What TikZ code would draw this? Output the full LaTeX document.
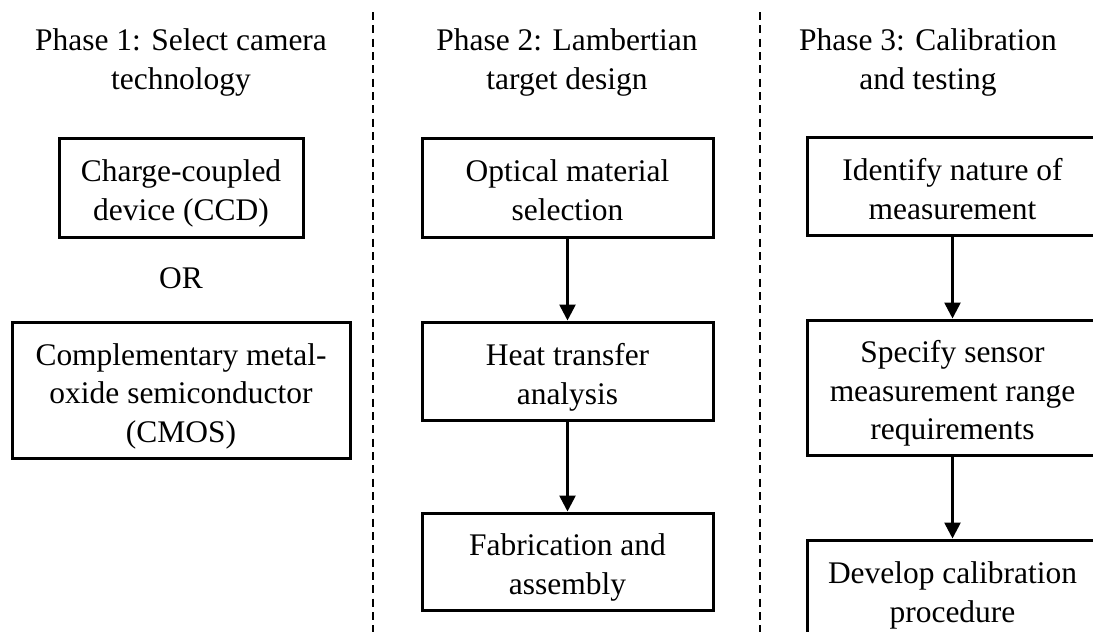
\documentclass[tikz,border=0pt]{standalone}
\usepackage{fontspec}
\setmainfont{Liberation Serif}
\usetikzlibrary{arrows.meta}

\tikzset{every picture/.style={line width=0.75pt}}
\tikzset{
  onerow/.style={align=center, inner sep=0pt, text height=26.6pt, text depth=6pt},
  tworows/.style={onerow, text height=55.5pt},
  threerows/.style={onerow, text height=84.4pt},
  stagebox/.style={draw, line width=2.25pt, tworows,
    minimum width=218.25pt, minimum height=74.25pt},
  flowarrow/.style={line width=2pt, -{Triangle[width=12pt,length=12pt]}},
  divider/.style={line width=2pt, dash pattern=on 6pt off 4pt}
}

\begin{document}
\begin{tikzpicture}[x=0.75pt,y=0.75pt,yscale=-1,xscale=1,
  font=\fontsize{23.6}{28.9}\selectfont]
%set diagram at 1093 x 632
\clip (0,0) rectangle (1093,632);

%Straight Lines (dividers)
\coordinate (divAtop) at (373,12);
\coordinate (divAbot) at (373,632);
\coordinate (divBtop) at (760,12);
\coordinate (divBbot) at (760,632);
\draw [divider] (divAtop) -- (divAbot);
\draw [divider] (divBtop) -- (divBbot);

% Text Node
\draw (181,56) node [tworows] (titleA) {Phase 1: Select camera\\technology};
% Text Node
\draw (567,56) node [tworows] (titleB) {Phase 2: Lambertian\\target design};
% Text Node
\draw (928,56) node [tworows] (titleC) {Phase 3: Calibration\\and testing};

%Shape: Rectangle
\draw (181,187.5) node [stagebox, minimum width=183pt] (ccd) {Charge-coupled\\device (CCD)};
% Text Node
\draw (181,275) node [onerow] (orword) {OR};
%Shape: Rectangle
\draw (181,390) node [stagebox, threerows, minimum width=253.5pt, minimum height=102pt] (cmos)
  {Complementary metal-\\oxide semiconductor\\(CMOS)};

%Shape: Rectangle
\draw (567.5,187.5) node [stagebox] (optical) {Optical material\\selection};
%Shape: Rectangle
\draw (567.5,371) node [stagebox, minimum height=73.5pt] (heat) {Heat transfer\\analysis};
%Shape: Rectangle
\draw (567.5,561.5) node [stagebox, minimum height=72.75pt] (fab) {Fabrication and\\assembly};

%Shape: Rectangle
\draw (952.5,186) node [stagebox, minimum height=73.5pt] (identify) {Identify nature of\\measurement};
%Shape: Rectangle
\draw (952.5,387.5) node [stagebox, threerows, minimum height=101.25pt] (specify)
  {Specify sensor\\measurement range\\requirements};
%Shape: Rectangle
\draw (952.5,589) node [stagebox, minimum height=73.5pt] (develop) {Develop calibration\\procedure};

%Straight Lines (arrows)
\draw [flowarrow] (optical) -- (heat);
\draw [flowarrow] (heat) -- (fab);
\draw [flowarrow] (identify) -- (specify);
\draw [flowarrow] (specify) -- (develop);

\end{tikzpicture}
\end{document}
